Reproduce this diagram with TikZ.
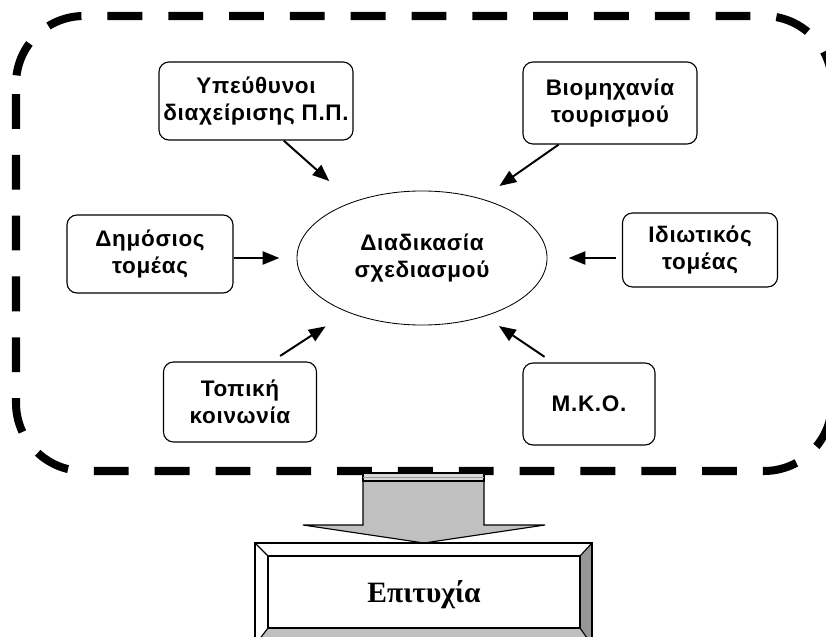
\documentclass[tikz,border=0pt]{standalone}
\usepackage{fontspec}
\setmainfont{Liberation Serif}
\newfontfamily\lblfont{Liberation Sans}[LetterSpace=3]
\usetikzlibrary{shapes.geometric}
\usetikzlibrary{arrows.meta}
\definecolor{silver}{HTML}{C0C0C0}
\definecolor{bevdark}{HTML}{969696}

\begin{document}
\begin{tikzpicture}[x=0.025cm,y=-0.025cm,
    actor/.style={draw, rounded corners=0.25cm, line width=0.8pt, align=center, inner sep=0pt,
        font=\lblfont\bfseries\fontsize{16}{19.5}\selectfont},
    hub/.style={draw, ellipse, line width=0.6pt, align=center, inner sep=0pt,
        minimum width=6.25cm, minimum height=3.35cm,
        font=\lblfont\bfseries\fontsize{16}{19.5}\selectfont},
    feed/.style={-{Triangle[length=0.42cm,width=0.33cm]}, line width=1.4pt}]
        \useasboundingbox (0,0) rectangle (826,636);
        \clip (0,0) rectangle (826,636);
        \draw[line width=5.7pt, dash pattern=on 0.87cm off 0.65cm, dash phase=1.27cm, rounded corners=1.7cm] (16,16) rectangle (832,471);

        \node[hub] (proc) at (422,258) {Διαδικασία\\σχεδιασμού};
        \node[actor, minimum width=4.85cm, minimum height=1.95cm] (hyp) at (256,101) {Υπεύθυνοι\\διαχείρισης Π.Π.};
        \node[actor, minimum width=4.35cm, minimum height=2.05cm] (bio) at (610,103) {Βιομηχανία\\τουρισμού};
        \node[actor, minimum width=4.15cm, minimum height=1.95cm] (dem) at (150,254) {Δημόσιος\\τομέας};
        \node[actor, minimum width=3.875cm, minimum height=1.85cm] (idi) at (700,250) {Ιδιωτικός\\τομέας};
        \node[actor, minimum width=3.825cm, minimum height=2cm] (top) at (240,402) {Τοπική\\κοινωνία};
        \node[actor, minimum width=3.3cm, minimum height=2.05cm] (mko) at (589,404) {Μ.Κ.Ο.};

        \draw[feed, shorten >=0.78cm] (hyp.-55) -- (proc.141);
        \draw[feed, shorten >=0.55cm] (bio.-141) -- (proc.45);
        \draw[feed, shorten >=0.43cm] (dem.east |- proc.west) -- (proc.west);
        \draw[feed, shorten <=0.15cm, shorten >=0.53cm] (idi.west |- proc.east) -- (proc.east);
        \draw[feed, shorten <=0.25cm, shorten >=0.65cm] (top.52) -- (proc.216);
        \draw[feed, shorten <=0.25cm, shorten >=0.43cm] (mko.131) -- (proc.-43);

        \draw[fill=silver, line width=0.8pt] (363,481) -- (484,481) -- (484,525) -- (545,525) -- (424,543) -- (303,525) -- (363,525) -- cycle;
        \draw[fill=silver!60, line width=0.8pt] (363,473) rectangle (484,481);
        \draw[bevdark, line width=0.4pt] (363,477) -- (484,477);

        \fill[bevdark] (592,543) -- (592,645) -- (580,628) -- (580,556) -- cycle;
        \fill[silver] (255,645) -- (592,645) -- (580,628) -- (268,628) -- cycle;
        \draw[line width=1pt] (255,543) rectangle (592,645);
        \draw[line width=1pt] (268,556) rectangle (580,628);
        \draw[line width=0.8pt] (255,543) -- (268,556);
        \draw[line width=0.8pt] (592,543) -- (580,556);
        \draw[line width=0.8pt] (255,645) -- (268,628);
        \draw[line width=0.8pt] (592,645) -- (580,628);
        \node[anchor=base, font=\bfseries\fontsize{21}{25}\selectfont] (succ) at (424,602) {Επιτυχία};
    \end{tikzpicture}
\end{document}
